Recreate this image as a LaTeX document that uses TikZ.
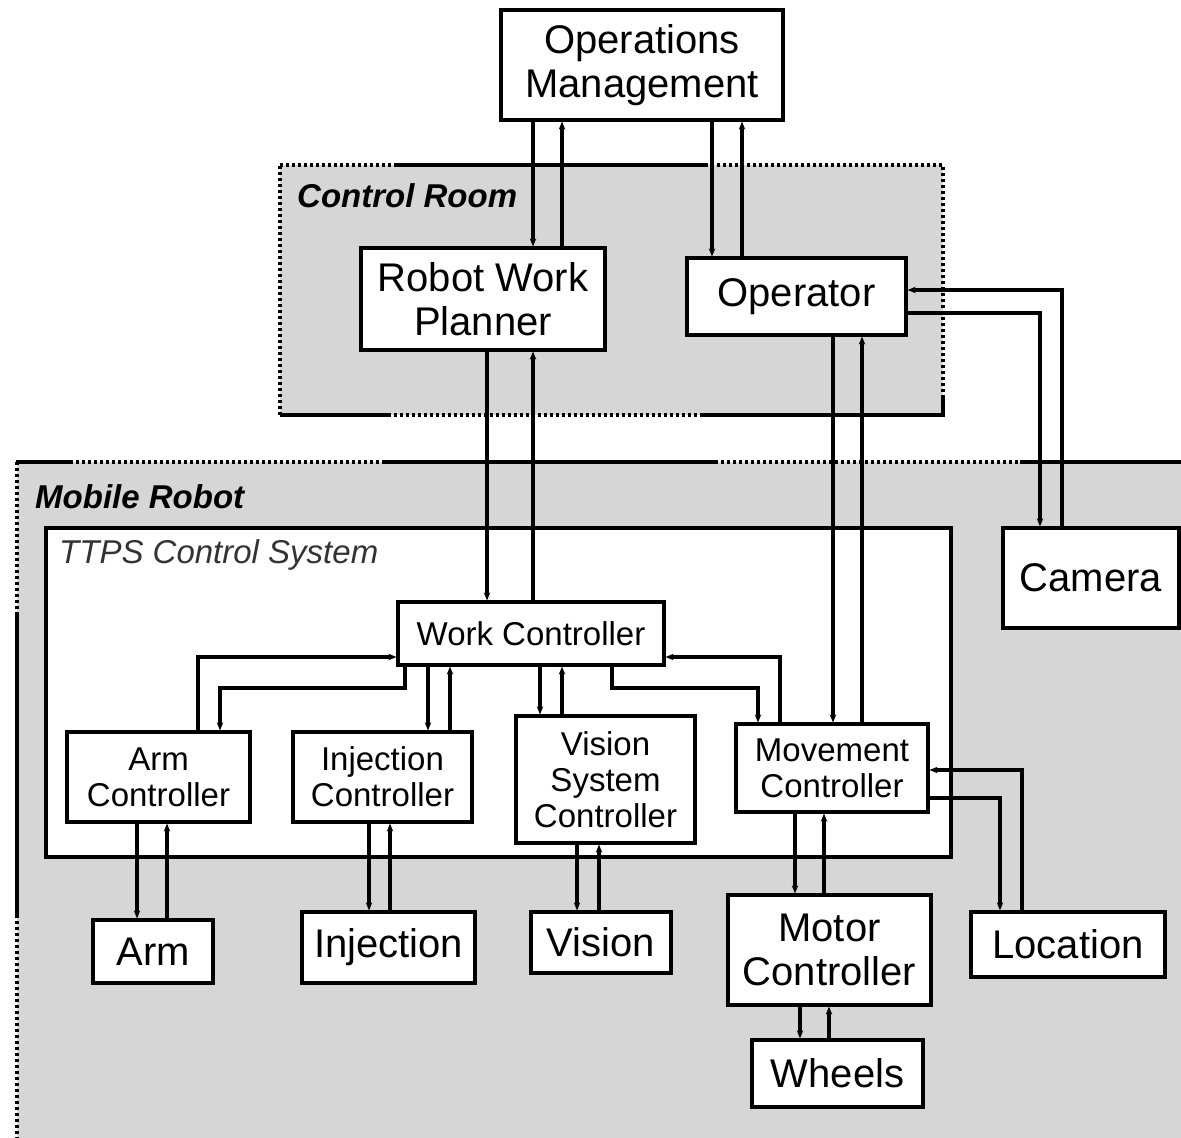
\documentclass[tikz,border=0pt]{standalone}
\usepackage{fontspec}
\setmainfont{Liberation Sans}
\usetikzlibrary{arrows.meta}
\definecolor{regiongray}{RGB}{214,214,214}
\begin{document}
\begin{tikzpicture}[x=1pt,y=-1pt,
  lw/.style={line width=3.2pt},
  box/.style={draw, lw, fill=white, inner sep=0pt, align=center},
  big/.style={font=\fontsize{40}{44}\selectfont},
  mid/.style={font=\fontsize{33}{36}\selectfont},
  conn/.style={lw, -{Stealth[length=8pt,width=6.5pt]}},
  solidedge/.style={lw},
  dotedge/.style={lw, dash pattern=on 3pt off 3pt},
  regionlabel/.style={font=\fontsize{33}{36}\selectfont\bfseries\itshape, anchor=west, inner sep=0pt},
]
\useasboundingbox (0,0) rectangle (1181,1138);
\clip (0,0) rectangle (1181,1138);
\fill[white] (0,0) rectangle (1181,1138);

% Control Room region
\fill[regiongray] (280,165) rectangle (943,415);
\draw[dotedge] (280,165) -- (396,165);
\draw[solidedge] (396,165) -- (705,165);
\draw[dotedge] (705,165) -- (943,165) -- (943,398);
\draw[solidedge] (943,398) -- (943,415) -- (703,415);
\draw[dotedge] (703,415) -- (389,415);
\draw[solidedge] (389,415) -- (280,415);
\draw[dotedge] (280,415) -- (280,165);
\node[regionlabel] (crlabel) at (297,196) {Control Room};

% Mobile Robot region
\fill[regiongray] (17,462) rectangle (1190,1145);
\draw[solidedge] (16,462) -- (70,462);
\draw[dotedge] (70,462) -- (385,462);
\draw[solidedge] (385,462) -- (715,462);
\draw[dotedge] (715,462) -- (1020,462);
\draw[solidedge] (1020,462) -- (1190,462);
\draw[dotedge] (17,462) -- (17,615);
\draw[solidedge] (17,615) -- (17,915);
\draw[dotedge] (17,915) -- (17,1140);
\node[regionlabel] (mrlabel) at (35,497) {Mobile Robot};

% TTPS Control System
\draw[lw, fill=white] (46,528) rectangle (951,857);
\node[font=\fontsize{33}{36}\selectfont\itshape, text=black!80, anchor=west, inner sep=0pt] (ttpslabel) at (59,555) {TTPS Control System};

% Boxes
\node[box,big,minimum width=282pt,minimum height=110pt] (ops) at (642,65) {Operations\\Management};
\node[box,big,minimum width=244pt,minimum height=102pt] (rwp) at (483,299) {Robot Work\\Planner};
\node[box,big,minimum width=219pt,minimum height=77pt] (oper) at (796.5,296.5) {Operator};
\node[box,big,minimum width=176pt,minimum height=100pt] (camera) at (1091,578) {Camera};
\node[box,mid,minimum width=266pt,minimum height=63pt] (wc) at (531,633.5) {Work Controller};
\node[box,mid,minimum width=183pt,minimum height=90pt] (armc) at (158.5,777) {Arm\\Controller};
\node[box,mid,minimum width=179pt,minimum height=90pt] (injc) at (382.5,777) {Injection\\Controller};
\node[box,mid,minimum width=179pt,minimum height=127pt] (vsc) at (605.5,779.5) {Vision\\System\\Controller};
\node[box,mid,minimum width=192pt,minimum height=88pt] (movc) at (832,768) {Movement\\Controller};
\node[box,big,minimum width=120pt,minimum height=63pt] (arm) at (153,951.5) {Arm};
\node[box,big,minimum width=173pt,minimum height=71pt] (inj) at (388.5,947.5) {Injection};
\node[box,big,minimum width=140pt,minimum height=61pt] (vis) at (601,942.5) {Vision};
\node[box,big,minimum width=203pt,minimum height=110pt] (motor) at (829.5,950) {Motor\\Controller};
\node[box,big,minimum width=194pt,minimum height=65pt] (loc) at (1068,944.5) {Location};
\node[box,big,minimum width=171pt,minimum height=67pt] (wheels) at (837.5,1073.5) {Wheels};

% Connectors
\draw[conn] (533,0 |- ops.south) -- (533,0 |- rwp.north);
\draw[conn] (562,0 |- rwp.north) -- (562,0 |- ops.south);
\draw[conn] (712,0 |- ops.south) -- (712,0 |- oper.north);
\draw[conn] (742,0 |- oper.north) -- (742,0 |- ops.south);
\draw[conn] (487,0 |- rwp.south) -- (487,0 |- wc.north);
\draw[conn] (533,0 |- wc.north) -- (533,0 |- rwp.south);
\draw[conn] (833,0 |- oper.south) -- (833,0 |- movc.north);
\draw[conn] (862,0 |- movc.north) -- (862,0 |- oper.south);
\draw[conn] (1062,0 |- camera.north) |- (oper.east |- 0,290);
\draw[conn] (oper.east |- 0,313) -| (1040,0 |- camera.north);

\draw[conn] (405,0 |- wc.south) |- (220,688) -- (220,0 |- armc.north);
\draw[conn] (198,0 |- armc.north) |- (wc.west |- 0,657);
\draw[conn] (428,0 |- wc.south) -- (428,0 |- injc.north);
\draw[conn] (450,0 |- injc.north) -- (450,0 |- wc.south);
\draw[conn] (540,0 |- wc.south) -- (540,0 |- vsc.north);
\draw[conn] (562,0 |- vsc.north) -- (562,0 |- wc.south);
\draw[conn] (612,0 |- wc.south) |- (758,688) -- (758,0 |- movc.north);
\draw[conn] (780,0 |- movc.north) |- (wc.east |- 0,657);
\draw[conn] (movc.east |- 0,798) -| (1000,0 |- loc.north);
\draw[conn] (1022,0 |- loc.north) |- (movc.east |- 0,770);

\draw[conn] (137,0 |- armc.south) -- (137,0 |- arm.north);
\draw[conn] (167,0 |- arm.north) -- (167,0 |- armc.south);
\draw[conn] (369,0 |- injc.south) -- (369,0 |- inj.north);
\draw[conn] (390,0 |- inj.north) -- (390,0 |- injc.south);
\draw[conn] (577,0 |- vsc.south) -- (577,0 |- vis.north);
\draw[conn] (599,0 |- vis.north) -- (599,0 |- vsc.south);
\draw[conn] (795,0 |- movc.south) -- (795,0 |- motor.north);
\draw[conn] (824,0 |- motor.north) -- (824,0 |- movc.south);
\draw[conn] (800,0 |- motor.south) -- (800,0 |- wheels.north);
\draw[conn] (829,0 |- wheels.north) -- (829,0 |- motor.south);
\end{tikzpicture}
\end{document}
